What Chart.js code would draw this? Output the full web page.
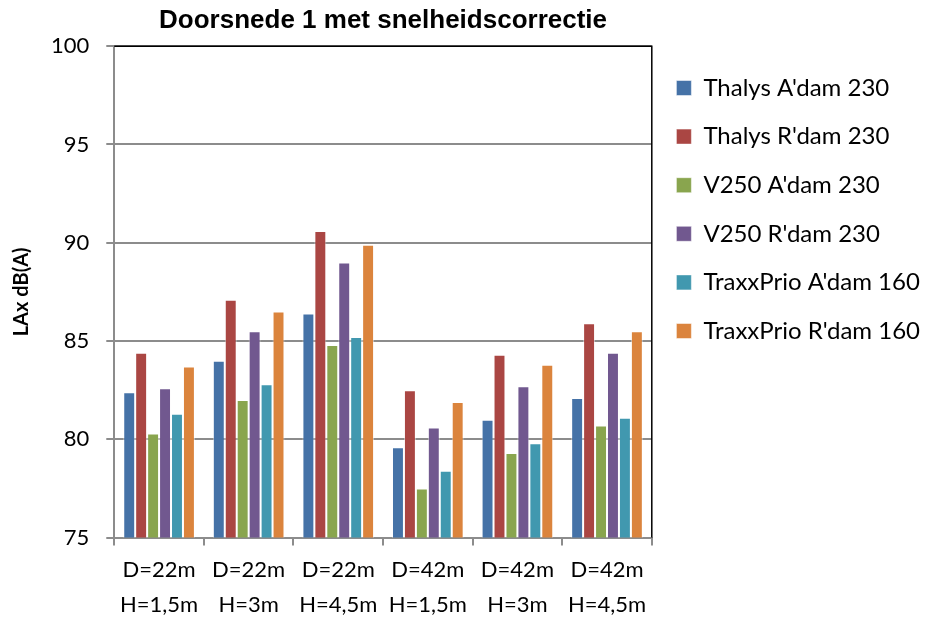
<!DOCTYPE html>
<html>
<head>
<meta charset="utf-8">
<script src="https://cdn.jsdelivr.net/npm/chart.js@4"></script>
<style>
  html, body { margin: 0; padding: 0; background: #fff; }
  #wrap { width: 932px; height: 617px; }
</style>
</head>
<body>
<div id="wrap"><canvas id="chart" width="932" height="617"></canvas></div>
<script>
// categories (two-line labels)
const categories = [
  ["D=22m", "H=1,5m"],
  ["D=22m", "H=3m"],
  ["D=22m", "H=4,5m"],
  ["D=42m", "H=1,5m"],
  ["D=42m", "H=3m"],
  ["D=42m", "H=4,5m"]
];

const seriesNames = [
  "Thalys A'dam 230",
  "Thalys R'dam 230",
  "V250 A'dam 230",
  "V250 R'dam 230",
  "TraxxPrio A'dam 160",
  "TraxxPrio R'dam 160"
];

// values
const thalysAdam = [82.4, 84.0, 86.4, 79.6, 81.0, 82.1];
const thalysRdam = [84.4, 87.1, 90.6, 82.5, 84.3, 85.9];
const v250Adam = [80.3, 82.0, 84.8, 77.5, 79.3, 80.7];
const v250Rdam = [82.6, 85.5, 89.0, 80.6, 82.7, 84.4];
const traxxAdam = [81.3, 82.8, 85.2, 78.4, 79.8, 81.1];
const traxxRdam = [83.7, 86.5, 89.9, 81.9, 83.8, 85.5];

const yTicks = [75, 80, 85, 90, 95, 100];

const colors = ["#4572A7", "#AA4643", "#89A54E", "#71588F", "#4198AF", "#DB843D"];
const allValues = [thalysAdam, thalysRdam, v250Adam, v250Rdam, traxxAdam, traxxRdam];

const datasets = allValues.map((vals, i) => ({
  label: seriesNames[i],
  data: vals,
  backgroundColor: colors[i],
  borderColor: "rgba(255,255,255,0.5)",
  borderWidth: 1,
  categoryPercentage: 0.8,
  barPercentage: 1.0
}));

// black top and right edges of the plot area
const plotFrame = {
  id: 'plotFrame',
  afterDraw(chart) {
    const a = chart.chartArea;
    const ctx = chart.ctx;
    ctx.save();
    ctx.strokeStyle = '#000';
    ctx.lineWidth = 1.5;
    ctx.beginPath();
    ctx.moveTo(a.left, a.top);
    ctx.lineTo(a.right, a.top);
    ctx.lineTo(a.right, a.bottom);
    ctx.stroke();
    ctx.restore();
  }
};

function drawChart() {
  const ctx = document.getElementById('chart').getContext('2d');
  new Chart(ctx, {
    type: 'bar',
    data: { labels: categories, datasets: datasets },
    plugins: [plotFrame],
    options: {
      responsive: false,
      animation: false,
      layout: { padding: { top: 0, right: 2, bottom: -13, left: 10 } },
      plugins: {
        title: {
          display: true,
          text: 'Doorsnede 1 met snelheidscorrectie',
          fullSize: false,
          color: '#000',
          font: { family: 'Liberation Sans', size: 26, weight: 'bold' },
          padding: { top: 5, bottom: 10 }
        },
        legend: {
          position: 'right',
          align: 'start',
          fullSize: false,
          maxWidth: 280,
          title: { display: true, text: '', font: { size: 1 }, padding: { top: 2, bottom: 2 } },
          labels: {
            color: '#000',
            font: { family: 'Lato', size: 24 },
            boxWidth: 15,
            boxHeight: 15,
            padding: 24.6
          }
        },
        tooltip: { enabled: false }
      },
      scales: {
        x: {
          grid: {
            display: true,
            drawOnChartArea: false,
            offset: true,
            color: '#8c8c8c',
            lineWidth: 2,
            tickLength: 8
          },
          border: { color: '#8c8c8c', width: 2 },
          ticks: {
            color: '#000',
            font: { family: 'Lato', size: 22, lineHeight: 1.6 },
            maxRotation: 0,
            autoSkip: false,
            padding: 7
          }
        },
        y: {
          min: 75,
          max: 100,
          afterBuildTicks(axis) {
            axis.ticks = yTicks.map(v => ({ value: v }));
          },
          grid: {
            color: '#8c8c8c',
            lineWidth: 2,
            tickLength: 8
          },
          border: { color: '#8c8c8c', width: 2 },
          ticks: {
            color: '#000',
            font: { family: 'Lato', size: 22 },
            padding: 17
          },
          title: {
            display: true,
            text: 'LAx dB(A)',
            color: '#000',
            font: { family: 'Lato', size: 20, weight: 'bold' },
            padding: { top: 0, bottom: 0 }
          }
        }
      }
    }
  });
}

// make sure the fonts are ready before Chart.js measures text
Promise.all([
  document.fonts.load('24px Lato'),
  document.fonts.load('bold 20px Lato'),
  document.fonts.load('bold 26px "Liberation Sans"')
]).then(drawChart, drawChart);
</script>
</body>
</html>
